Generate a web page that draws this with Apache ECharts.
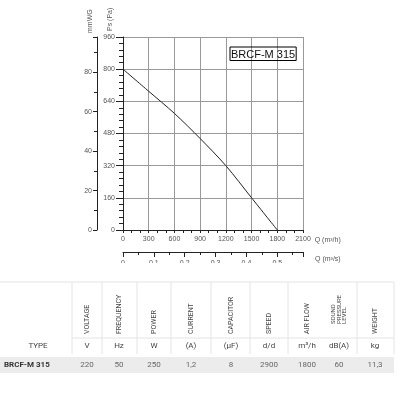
<!DOCTYPE html>
<html>
<head>
<meta charset="utf-8">
<script src="https://cdn.jsdelivr.net/npm/echarts@6/dist/echarts.min.js"></script>
<style>
  html, body { margin: 0; padding: 0; background: #fff; }
  #fanCurve { width: 400px; height: 400px; }
</style>
</head>
<body>
<div id="fanCurve"></div>
<script>
// curve data
const flowM3h = [0, 300, 600, 900, 1200, 1500, 1800]
const pressurePa = [800, 690, 580, 455, 320, 160, 0]
const modelName = 'BRCF-M 315'

// table
const tableHeads = ['VOLTAGE', 'FREQUENCY', 'POWER', 'CURRENT', 'CAPACITOR', 'SPEED', 'AIR FLOW', 'SOUND\nPRESSURE\nLEVEL', 'WEIGHT']
const tableUnits = ['V', 'Hz', 'W', '(A)', '(µF)', 'd/d', 'm³/h', 'dB(A)', 'kg']
const tableValues = ['220', '50', '250', '1,2', '8', '2900', '1800', '60', '11,3']

// layout of the table (pixels)
const colCenters = [87, 119, 154, 191, 231, 269, 307, 339, 375]
const headBase = [334, 334, 334, 334, 334, 334, 334, 324, 334]
const headSize = [7, 7, 7, 7, 7, 7, 7, 6, 7]
const colEdges = [72, 102, 137, 171, 211, 250, 288, 357, 394]

const PA_PER_MMWG = 9.80665
const FONT = 'Liberation Sans, Arial, sans-serif'
const TFONT = 'Roboto, Liberation Sans, sans-serif'

const chart = echarts.init(document.getElementById('fanCurve'))

const graphics = []
// axis names, rotated
graphics.push({ type: 'text', x: 90, y: 33, rotation: Math.PI / 2,
  style: { text: 'mmWG', font: '7px ' + FONT, fill: '#555', align: 'left', verticalAlign: 'middle' } })
graphics.push({ type: 'text', x: 110, y: 31, rotation: Math.PI / 2,
  style: { text: 'Ps (Pa)', font: '7px ' + FONT, fill: '#555', align: 'left', verticalAlign: 'middle' } })
// clip lower half of the m3/s labels like the source
graphics.push({ type: 'rect', shape: { x: 100, y: 263, width: 230, height: 16 }, style: { fill: '#fff' }, z: 100 })

// table lines
graphics.push({ type: 'line', shape: { x1: 0, y1: 282, x2: 394, y2: 282 }, style: { stroke: '#e4e4e4', lineWidth: 1 } })
graphics.push({ type: 'line', shape: { x1: 72, y1: 338, x2: 394, y2: 338 }, style: { stroke: '#e4e4e4', lineWidth: 1 } })
colEdges.forEach(function (x) {
  graphics.push({ type: 'line', shape: { x1: x, y1: 282, x2: x, y2: 354 }, style: { stroke: '#e4e4e4', lineWidth: 1 } })
})
graphics.push({ type: 'rect', shape: { x: 0, y: 357, width: 394, height: 16 }, style: { fill: '#ececec' } })
graphics.push({ type: 'text', x: 38, y: 346, style: { text: 'TYPE', font: '8px ' + TFONT, fill: '#444', align: 'center', verticalAlign: 'middle' } })
graphics.push({ type: 'text', x: 4, y: 365, style: { text: modelName, font: 'bold 8px ' + TFONT, fill: '#333', align: 'left', verticalAlign: 'middle' } })
tableHeads.forEach(function (h, i) {
  graphics.push({ type: 'text', x: colCenters[i], y: headBase[i], rotation: Math.PI / 2,
    style: { text: h, fontSize: headSize[i], fontFamily: TFONT, fill: '#444', align: 'left', verticalAlign: 'middle', lineHeight: 5.5 } })
  graphics.push({ type: 'text', x: colCenters[i], y: 346,
    style: { text: tableUnits[i], font: '8px ' + TFONT, fill: '#444', align: 'center', verticalAlign: 'middle' } })
  graphics.push({ type: 'text', x: colCenters[i], y: 365,
    style: { text: tableValues[i], font: '8px ' + TFONT, fill: '#666', align: 'center', verticalAlign: 'middle' } })
})

const labelStyle = { fontSize: 7, color: '#555', fontFamily: FONT }

const option = {
  animation: false,
  grid: { left: 123, top: 37, width: 180, height: 193, containLabel: false },
  legend: {
    data: [modelName],
    left: 230, top: 47,
    icon: 'none', itemWidth: 0, itemGap: 0,
    borderColor: '#000', borderWidth: 1, padding: [1, 1, 0, -4],
    textStyle: { fontSize: 11, color: '#111', fontFamily: FONT },
  },
  xAxis: [
    {
      type: 'value', min: 0, max: 2100, interval: 300, position: 'bottom',
      name: 'Q (m³/h)', nameLocation: 'end', nameGap: 8,
      nameTextStyle: { fontSize: 7, color: '#555', fontFamily: FONT, verticalAlign: 'top', padding: [7, 0, 0, 0] },
      axisLine: { lineStyle: { color: '#222', width: 1 } },
      axisTick: { length: 3, lineStyle: { color: '#222' } },
      minorTick: { show: true, splitNumber: 3, length: 3, lineStyle: { color: '#222' } },
      axisLabel: Object.assign({ margin: 6, formatter: function (v) { return String(v) } }, labelStyle),
      splitLine: { show: true, lineStyle: { color: '#999', width: 1 } },
    },
    {
      type: 'value', min: 0, max: 2100 / 3600, interval: 0.1, position: 'bottom', offset: 22,
      name: 'Q (m³/s)', nameLocation: 'end', nameGap: 12,
      nameTextStyle: { fontSize: 7, color: '#555', fontFamily: FONT, verticalAlign: 'top', padding: [4, 0, 0, 0] },
      axisLine: { onZero: false, lineStyle: { color: '#222', width: 1 } },
      axisTick: { length: 5, lineStyle: { color: '#222' } },
      minorTick: { show: true, splitNumber: 2, length: 3, lineStyle: { color: '#222' } },
      axisLabel: Object.assign({ margin: 8, formatter: function (v) { return v > 0.55 ? '' : String(+v.toFixed(1)) } }, labelStyle),
      splitLine: { show: false },
    },
  ],
  yAxis: [
    {
      type: 'value', min: 0, max: 960, interval: 160, position: 'left',
      axisLine: { show: true, lineStyle: { color: '#222', width: 1 } },
      axisTick: { show: true, length: 7, lineStyle: { color: '#222' } },
      minorTick: { show: true, splitNumber: 5, length: 4, lineStyle: { color: '#222' } },
      axisLabel: Object.assign({ margin: 8 }, labelStyle),
      splitLine: { show: true, lineStyle: { color: '#999', width: 1 } },
    },
    {
      type: 'value', min: 0, max: 960 / PA_PER_MMWG, interval: 20, position: 'left', offset: 26,
      axisLine: { show: true, onZero: false, lineStyle: { color: '#222', width: 1 } },
      axisTick: { show: true, length: 4, lineStyle: { color: '#222' } },
      minorTick: { show: true, splitNumber: 2, length: 3, lineStyle: { color: '#222' } },
      axisLabel: Object.assign({ margin: 5, showMaxLabel: false }, labelStyle),
      splitLine: { show: false },
    },
  ],
  series: [
    {
      name: modelName,
      type: 'line',
      xAxisIndex: 0, yAxisIndex: 0,
      smooth: 0.3,
      symbol: 'none',
      lineStyle: { color: '#222', width: 1 },
      itemStyle: { color: '#222' },
      data: flowM3h.map(function (q, i) { return [q, pressurePa[i]] }),
    },
  ],
  graphic: graphics,
}

chart.setOption(option)
window.addEventListener('resize', function () {
  chart.resize()
})
</script>
</body>
</html>
